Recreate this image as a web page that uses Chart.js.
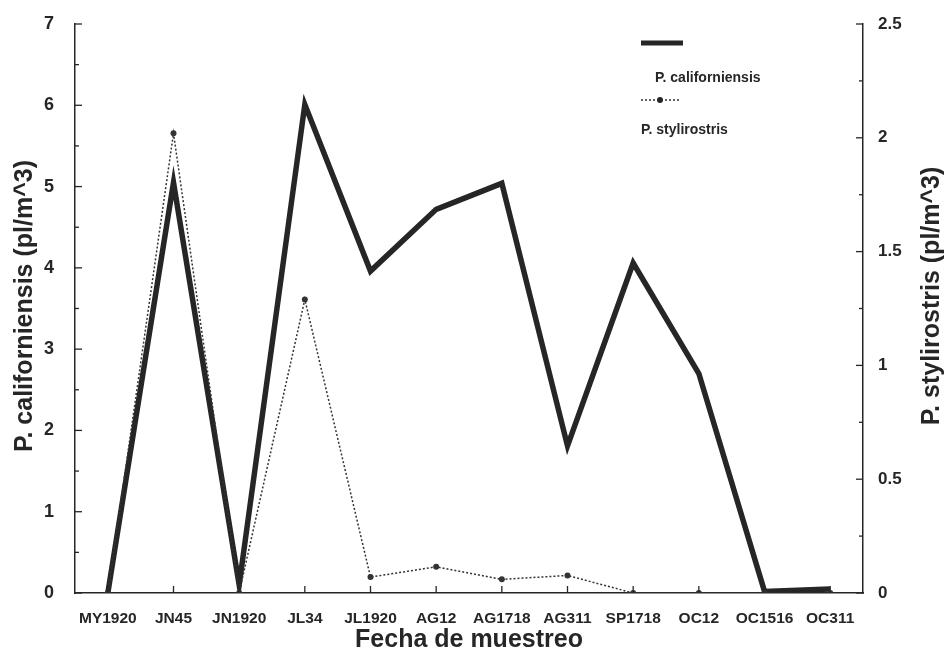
<!DOCTYPE html>
<html lang="es">
<head>
  <meta charset="UTF-8" />
  <title>P. californiensis y P. stylirostris</title>
  <script src="https://cdn.jsdelivr.net/npm/chart.js"></script>
  <style>
    body { margin: 0; background: #fff; }
    .wrap { width: 952px; height: 662px; position: relative; }
  </style>
</head>
<body>
  <div class="wrap"><canvas id="chart"></canvas></div>

  <script>
    const fechas = ['MY1920', 'JN45', 'JN1920', 'JL34', 'JL1920', 'AG12', 'AG1718', 'AG311', 'SP1718', 'OC12', 'OC1516', 'OC311'];
    const californiensis = [0, 5.05, 0.1, 6.01, 3.96, 4.72, 5.04, 1.81, 4.06, 2.7, 0.02, 0.05];
    const stylirostris = [0, 2.02, 0, 1.29, 0.07, 0.115, 0.06, 0.077, 0, 0, 0, 0];

    const tituloIzq = 'P. californiensis (pl/m^3)';
    const tituloDer = 'P. stylirostris (pl/m^3)';

    const ink = '#262626';
    const boldFont = 'Arial, "Liberation Sans", sans-serif';

    // ticks pointing into the plot, major and half-step minor
    const inwardTicks = {
      id: 'inwardTicks',
      afterDatasetsDraw(chart) {
        const { ctx, chartArea, scales } = chart;
        ctx.save();
        ctx.strokeStyle = ink;
        ctx.lineWidth = 1.3;
        scales.x.ticks.forEach((t, i) => {
          const x = scales.x.getPixelForTick(i);
          ctx.beginPath();
          ctx.moveTo(x, chartArea.bottom);
          ctx.lineTo(x, chartArea.bottom - 7);
          ctx.stroke();
        });
        [['y', 1], ['y2', -1]].forEach(([id, dir]) => {
          const s = scales[id];
          const edge = dir > 0 ? chartArea.left : chartArea.right;
          s.ticks.forEach(t => {
            const y = s.getPixelForValue(t.value);
            const len = t.label === '' ? 4 : 7;
            ctx.beginPath();
            ctx.moveTo(edge, y);
            ctx.lineTo(edge + dir * len, y);
            ctx.stroke();
          });
        });
        ctx.restore();
      }
    };

    // both y titles read bottom to top
    const axisTitles = {
      id: 'axisTitles',
      afterDraw(chart) {
        const { ctx } = chart;
        ctx.save();
        ctx.fillStyle = ink;
        ctx.font = 'bold 25px ' + boldFont;
        ctx.textAlign = 'center';
        ctx.textBaseline = 'middle';
        [[tituloIzq, 25, 306], [tituloDer, 932, 296]].forEach(([txt, x, y]) => {
          ctx.save();
          ctx.translate(x, y);
          ctx.rotate(-Math.PI / 2);
          ctx.fillText(txt, 0, 0);
          ctx.restore();
        });
        ctx.restore();
      }
    };

    // legend: sample line above its label, top right
    const sideLegend = {
      id: 'sideLegend',
      afterDraw(chart) {
        const { ctx } = chart;
        const ds = chart.data.datasets;
        ctx.save();
        ctx.fillStyle = ink;
        ctx.textBaseline = 'alphabetic';
        ctx.font = 'bold 14px ' + boldFont;

        ctx.strokeStyle = ds[0].borderColor;
        ctx.lineWidth = 5;
        ctx.beginPath();
        ctx.moveTo(641, 43);
        ctx.lineTo(683, 43);
        ctx.stroke();
        ctx.fillText(ds[0].label, 655, 82);

        ctx.strokeStyle = ds[1].borderColor;
        ctx.lineWidth = 1.5;
        ctx.setLineDash([2, 2]);
        ctx.beginPath();
        ctx.moveTo(641, 100);
        ctx.lineTo(680, 100);
        ctx.stroke();
        ctx.setLineDash([]);
        ctx.beginPath();
        ctx.arc(660, 100, 3, 0, Math.PI * 2);
        ctx.fill();
        ctx.fillText(ds[1].label, 641, 134);
        ctx.restore();
      }
    };

    new Chart(document.getElementById('chart'), {
      type: 'line',
      data: {
        labels: fechas,
        datasets: [
          {
            label: 'P. californiensis',
            data: californiensis,
            yAxisID: 'y',
            borderColor: ink,
            borderWidth: 5.5,
            pointRadius: 0,
            tension: 0,
            order: 2
          },
          {
            label: 'P. stylirostris',
            data: stylirostris,
            yAxisID: 'y2',
            borderColor: '#333',
            backgroundColor: '#333',
            borderWidth: 1.5,
            borderDash: [2, 2],
            pointRadius: 3,
            pointBorderWidth: 0,
            tension: 0,
            order: 1
          }
        ]
      },
      options: {
        animation: false,
        responsive: true,
        maintainAspectRatio: false,
        layout: { padding: { top: 24, left: 0, right: 0, bottom: 0 } },
        plugins: {
          legend: { display: false },
          tooltip: { enabled: false }
        },
        scales: {
          x: {
            offset: true,
            grid: { display: false, offset: false },
            border: { display: true, color: ink, width: 1.5 },
            ticks: {
              color: ink,
              padding: 8,
              maxRotation: 0,
              autoSkip: false,
              font: { family: boldFont, size: 15.5, weight: 'bold' }
            },
            title: {
              display: true,
              text: 'Fecha de muestreo',
              color: ink,
              padding: { top: 0, bottom: 7 },
              font: { family: boldFont, size: 25, weight: 'bold' }
            },
            afterFit: s => { s.height = 69; }
          },
          y: {
            position: 'left',
            min: 0,
            max: 7,
            grid: { display: false },
            border: { display: true, color: ink, width: 1.5 },
            ticks: {
              stepSize: 0.5,
              color: ink,
              padding: 13,
              font: { family: boldFont, size: 18, weight: 'bold' },
              callback: v => Number.isInteger(v) ? v : ''
            },
            afterFit: s => { s.width = 75; }
          },
          y2: {
            position: 'right',
            min: 0,
            max: 2.5,
            grid: { display: false },
            border: { display: true, color: ink, width: 1.5 },
            ticks: {
              stepSize: 0.25,
              color: ink,
              padding: 7,
              font: { family: boldFont, size: 17, weight: 'bold' },
              callback: v => (Math.round(v * 100) % 50 === 0) ? v : ''
            },
            afterFit: s => { s.width = 89; }
          }
        }
      },
      plugins: [inwardTicks, axisTitles, sideLegend]
    });
  </script>
</body>
</html>
